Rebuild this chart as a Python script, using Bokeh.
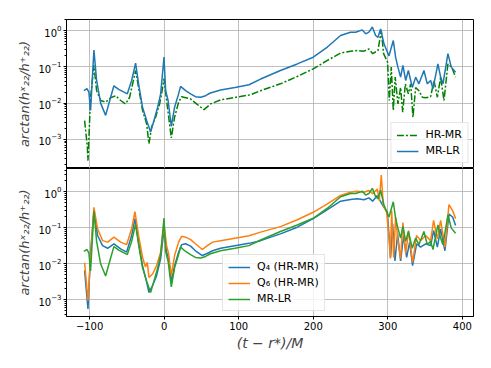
from bokeh.plotting import figure
from bokeh.layouts import column
from bokeh.models import Range1d, FixedTicker
from bokeh.embed import file_html
from bokeh.resources import INLINE

# ---- data ----
mrlr_x = [-107.6, -103.5, -101, -98.7, -94.2, -90.6, -85.2, -78.5, -71.8, -67.4, -61, -49.4, -43.6, -38.3, -34.3, -29,
          -23.5, -18.2, -13.7, -8.7, -4.7, -0.2, 2, 5.3, 9.6, 14, 19.4, 22, 28.8, 35.5, 42, 49, 55.6, 62, 69, 75.7, 95,
          113.8, 129.4, 156, 178.6, 200, 219, 236.7, 250, 256.9, 265.8, 270.3, 274.7, 279.3, 283.7, 286.8, 290.4,
          294.9, 301.6, 307.4, 310.5, 313.6, 317.2, 320.3, 324, 327.6, 332.9, 337.4, 341.8, 348.5, 353, 357.5, 360.6,
          367.3, 370.9, 374, 380.7, 385.2, 391]
mrlr_y = [0.022, 0.025, 0.02, 0.0063, 0.29, 0.042, 0.01, 0.0046, 0.0145, 0.030, 0.024, 0.018, 0.042, 0.126, 0.034,
          0.0077, 0.0033, 0.0016, 0.0033, 0.0077, 0.018, 0.185, 0.022, 0.0118, 0.0023, 0.0077, 0.018, 0.029, 0.022,
          0.018, 0.015, 0.0145, 0.016, 0.019, 0.021, 0.023, 0.027, 0.032, 0.046, 0.079, 0.12, 0.184, 0.35, 0.73, 0.9,
          0.9, 1.04, 0.81, 0.9, 1.25, 0.73, 0.65, 1.1, 0.43, 0.2, 0.53, 0.184, 0.098, 0.052, 0.11, 0.042, 0.079,
          0.027, 0.052, 0.034, 0.079, 0.034, 0.042, 0.025, 0.12, 0.052, 0.034, 0.23, 0.098, 0.071]

hrmr_x = [-106.7, -103, -102.2, -98.7, -94.2, -90.6, -85.2, -78.5, -71.8, -65, -58.4, -51.7, -46.3, -38.3, -34.3, -29,
          -23.5, -20.4, -16.8, -11.5, -6.1, -3.4, -0.2, 3.3, 9.6, 14, 19.4, 23.4, 35.5, 43.5, 53.4, 62.3, 75.7, 116,
          129.4, 156, 178.6, 200, 219, 236.7, 250, 259, 267.9, 274.7, 279.7, 286.8, 291.3, 294.4, 299.8, 302, 304.7,
          307.4, 310, 313.6, 317.2, 320, 323.6, 327.6, 330.7, 333.8, 337.4, 341.8, 346.4, 350.8, 357.5, 362, 366.5,
          370.9, 375.4, 380.7, 385.7, 391]
hrmr_y = [0.0033, 0.00062, 0.00026, 0.0145, 0.11, 0.022, 0.0118, 0.0106, 0.014, 0.016, 0.0118, 0.0095, 0.0145, 0.079,
          0.027, 0.0063, 0.0027, 0.00076, 0.0022, 0.0041, 0.0095, 0.018, 0.047, 0.0118, 0.0011, 0.0041, 0.0106, 0.015,
          0.013, 0.0095, 0.0066, 0.0095, 0.0123, 0.017, 0.022, 0.034, 0.054, 0.088, 0.15, 0.24, 0.27, 0.28, 0.27,
          0.31, 0.23, 0.28, 1.0, 0.23, 0.134, 0.0118, 0.098, 0.0063, 0.052, 0.0095, 0.027, 0.0056, 0.034, 0.018,
          0.034, 0.0041, 0.027, 0.022, 0.0145, 0.014, 0.015, 0.042, 0.0145, 0.052, 0.0118, 0.12, 0.098, 0.052]

q4_x = [-106.7, -102.2, -98.7, -94.2, -89.3, -82.6, -75.8, -67.4, -58.4, -50.4, -43.6, -39.2, -34.3, -29, -23.5,
        -20.4, -15.5, -10.1, -4.7, -0.2, 3.3, 6, 9.6, 14, 19.4, 23.4, 28.8, 35.5, 42, 51.2, 57, 65, 75.7, 113.8,
        129.4, 156, 178.6, 200, 219, 236.7, 250, 259, 268, 274.7, 279.7, 286, 290.4, 294.9, 299.4, 303.8, 306.5,
        309.6, 313.2, 317.2, 321.2, 325.3, 329.3, 333.3, 338.7, 344, 350.8, 357.5, 361.5, 366.5, 370.9, 376.7,
        382.1, 387, 391]
q4_y = [0.0065, 0.00056, 0.021, 0.30, 0.061, 0.032, 0.027, 0.036, 0.026, 0.021, 0.061, 0.18, 0.04, 0.0089, 0.0031,
        0.0016, 0.0025, 0.0047, 0.014, 0.09, 0.021, 0.014, 0.0031, 0.0089, 0.021, 0.034, 0.036, 0.031, 0.023, 0.017,
        0.019, 0.023, 0.027, 0.037, 0.044, 0.068, 0.104, 0.18, 0.32, 0.55, 0.61, 0.64, 0.6, 0.68, 0.55, 0.79, 0.53,
        0.37, 0.27, 0.015, 0.13, 0.012, 0.068, 0.012, 0.061, 0.015, 0.04, 0.0089, 0.036, 0.029, 0.036, 0.032, 0.084,
        0.029, 0.094, 0.023, 0.24, 0.2, 0.116]

q6_x = [-106.7, -102.2, -98.7, -94.2, -89.3, -82.6, -75.8, -67.4, -58.4, -50.4, -43.6, -39.2, -34.3, -29, -25, -22.6,
        -20.4, -15.5, -10.1, -4.7, -0.2, 3.3, 6, 9.6, 14, 19.4, 23.4, 28.8, 35.5, 42, 51.2, 57, 65, 75.7, 113.8,
        129.4, 156, 178.6, 200, 219, 236.7, 250, 259, 268, 274.7, 279.7, 286, 288.6, 291.3, 294, 298.5, 301.6,
        303.4, 305.2, 307.9, 310.5, 313.6, 317.2, 320.3, 324, 328, 333.3, 338.7, 344, 350.8, 357.5, 361.5, 366.5,
        370.9, 376.7, 382.1, 387, 391]
q6_y = [0.0107, 0.00095, 0.014, 0.37, 0.094, 0.044, 0.04, 0.055, 0.04, 0.034, 0.094, 0.28, 0.061, 0.0153, 0.0081,
        0.011, 0.0042, 0.0052, 0.0089, 0.021, 0.12, 0.032, 0.019, 0.0047, 0.017, 0.04, 0.058, 0.055, 0.047, 0.036,
        0.025, 0.031, 0.04, 0.044, 0.06, 0.076, 0.108, 0.167, 0.27, 0.46, 0.79, 0.97, 1.04, 0.97, 1.09, 0.88, 1.2,
        0.57, 2.9, 0.42, 0.27, 0.055, 0.014, 0.3, 0.015, 0.2, 0.044, 0.014, 0.14, 0.019, 0.084, 0.011, 0.061, 0.044,
        0.061, 0.044, 0.16, 0.049, 0.16, 0.029, 0.44, 0.3, 0.18]

x_ticks = [-100, 0, 100, 200, 300, 400]
x_tick_labels = {-100: "\u2212100"}
y_label = "arctan(h\u02e3\u2082\u2082/h\u207a\u2082\u2082)"
x_label = "(t \u2212 r*)/M"

BLUE = "#1f77b4"
ORANGE = "#ff7f0e"
GREEN = "#2ca02c"
DGREEN = "#008000"

x_range = Range1d(-131, 415)


def style(p, show_x):
    p.outline_line_color = "black"
    p.outline_line_width = 1
    p.xgrid.ticker = FixedTicker(ticks=x_ticks)
    p.grid.grid_line_color = "#b0b0b0"
    p.grid.grid_line_width = 0.8
    p.yaxis.axis_label = y_label
    p.yaxis.axis_label_text_font = "DejaVu Sans"
    p.yaxis.axis_label_text_font_style = "italic"
    p.yaxis.axis_label_text_font_size = "13px"
    p.yaxis.axis_label_standoff = 3
    for ax in [p.xaxis[0], p.yaxis[0]]:
        ax.major_label_text_font = "DejaVu Sans"
        ax.major_label_text_font_size = "10px"
        ax.major_label_text_color = "black"
        ax.axis_line_color = "black"
        ax.major_tick_line_color = "black"
        ax.minor_tick_line_color = "black"
        ax.major_tick_out = 3
        ax.major_tick_in = 0
        ax.minor_tick_out = 2
        ax.minor_tick_in = 0
        ax.major_label_standoff = 2
    p.xaxis.ticker = FixedTicker(ticks=x_ticks)
    p.xaxis.major_label_overrides = x_tick_labels
    if show_x:
        p.xaxis.axis_label = x_label
        p.xaxis.axis_label_text_font = "DejaVu Sans"
        p.xaxis.axis_label_text_font_style = "italic"
        p.xaxis.axis_label_text_font_size = "14px"
        p.xaxis.axis_label_standoff = 2
    else:
        p.xaxis.visible = False


def style_legend(p):
    lg = p.legend[0]
    lg.label_text_font = "DejaVu Sans"
    lg.label_text_font_size = "11px"
    lg.label_text_color = "black"
    lg.border_line_color = "#cccccc"
    lg.background_fill_alpha = 0.8
    lg.glyph_width = 22
    lg.glyph_height = 12
    lg.label_height = 12
    lg.label_standoff = 7
    lg.spacing = 3
    lg.padding = 5
    lg.margin = 5


p1 = figure(width=483, height=168, x_range=x_range, y_range=Range1d(1.58e-4, 2.01), y_axis_type="log",
            output_backend="svg", toolbar_location=None,
            min_border_left=66, min_border_right=10, min_border_top=19, min_border_bottom=0)
p1.line(hrmr_x, hrmr_y, color=DGREEN, line_width=1.5, line_dash="7 2 2 2", legend_label="HR-MR")
p1.line(mrlr_x, mrlr_y, color=BLUE, line_width=1.5, legend_label="MR-LR")
style(p1, False)
style_legend(p1)
p1.legend.location = "bottom_right"

p2 = figure(width=483, height=192, x_range=x_range, y_range=Range1d(3.44e-4, 4.44), y_axis_type="log",
            output_backend="svg", toolbar_location=None,
            min_border_left=66, min_border_right=10, min_border_top=0, min_border_bottom=44)
p2.line(q4_x, q4_y, color=BLUE, line_width=1.5, legend_label="Q\u2084 (HR-MR)")
p2.line(q6_x, q6_y, color=ORANGE, line_width=1.5, legend_label="Q\u2086 (HR-MR)")
p2.line(mrlr_x, mrlr_y, color=GREEN, line_width=1.5, legend_label="MR-LR")
style(p2, True)
style_legend(p2)
p2.legend.location = (156, 5)

layout = column(p1, p2, spacing=0)
open("out.html", "w").write(file_html(layout, INLINE))
